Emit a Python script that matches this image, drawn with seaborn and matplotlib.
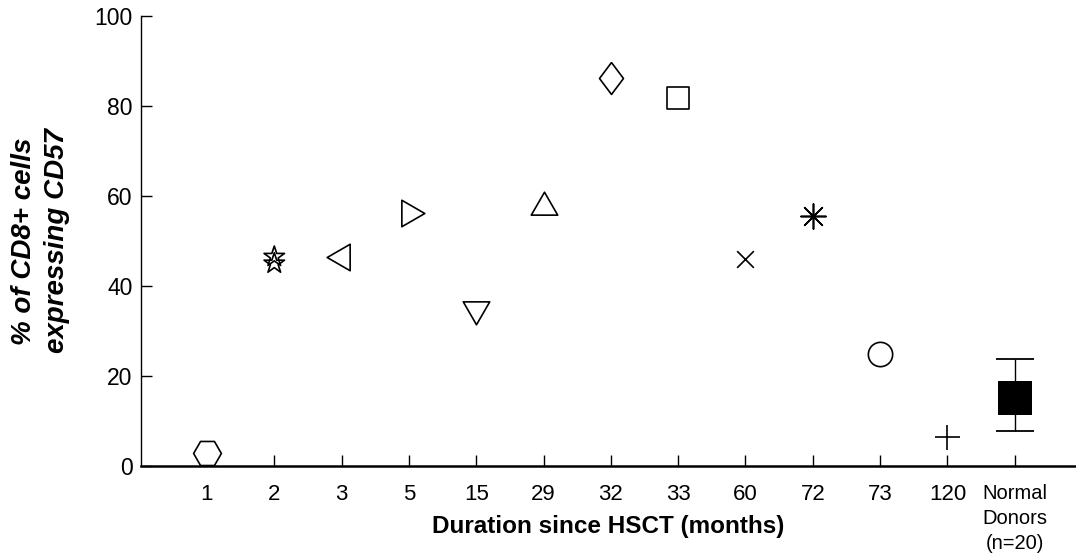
import numpy as np
import pandas as pd
import matplotlib
matplotlib.use("Agg")
import matplotlib.pyplot as plt
import seaborn as sns

# Category labels along the x axis (months since transplant, then the control group)
categories = ["1", "2", "3", "5", "15", "29", "32", "33", "60", "72", "73", "120",
              "Normal\nDonors\n(n=20)"]

# Individual patients: months since HSCT and % of CD8+ cells expressing CD57
patient_months = ["1", "2", "2", "3", "5", "15", "29", "32", "33", "60", "72", "73", "120"]
patient_cd57 = [3.0, 46.5, 45.0, 46.4, 56.2, 35.0, 57.5, 86.2, 81.8, 46.0, 55.6, 24.9, 6.4]

# Normal donors: mean with lower / upper range
donor_mean = 15.2
donor_low = 7.8
donor_high = 23.8

# Marker style per patient (drawing style only)
patient_markers = ["hexagon", "star", "star", "tri_left", "tri_right", "tri_down", "tri_up",
                   "diamond", "square", "cross", "asterisk", "circle", "plus"]

thin_diamond = [(0, 1), (0.75, 0), (0, -1), (-0.75, 0), (0, 1)]
MARKER_SPECS = {
    "hexagon":   dict(marker="H", size=20, face="white", line_art=False),
    "star":      dict(marker="*", size=15.5, face="none", line_art=False),
    "tri_left":  dict(marker=(3, 0, 90), size=22, face="white", line_art=False),
    "tri_right": dict(marker=(3, 0, 270), size=22, face="white", line_art=False),
    "tri_down":  dict(marker=(3, 0, 180), size=22, face="white", line_art=False),
    "tri_up":    dict(marker=(3, 0, 0), size=22, face="white", line_art=False),
    "diamond":   dict(marker=thin_diamond, size=23, face="white", line_art=False),
    "square":    dict(marker="s", size=16, face="white", line_art=False),
    "cross":     dict(marker="x", size=12, face="black", line_art=True),
    "asterisk":  dict(marker=(8, 2, 0), size=18, face="black", line_art=True),
    "circle":    dict(marker="o", size=17.5, face="white", line_art=False),
    "plus":      dict(marker="+", size=18, face="black", line_art=True),
}

sns.set_theme(style="white")
plt.rcParams["font.family"] = ["Liberation Sans", "DejaVu Sans"]
plt.rcParams.update({
    "text.color": "black",
    "axes.labelcolor": "black",
    "xtick.color": "black",
    "ytick.color": "black",
    "axes.edgecolor": "black",
})

fig = plt.figure(figsize=(10.76, 5.55), dpi=100)
ax = fig.add_axes([141 / 1076, 1 - 466 / 555, 935 / 1076, 450 / 555])

positions = [categories.index(m) for m in patient_months]
for pos, val, mk in zip(positions, patient_cd57, patient_markers):
    spec = MARKER_SPECS[mk]
    kws = dict(marker=spec["marker"], s=spec["size"] ** 2, linewidth=1.2,
               zorder=3, legend=False, ax=ax, clip_on=False)
    if spec["line_art"]:
        sns.scatterplot(x=[pos], y=[val], color="black", **kws)
    else:
        sns.scatterplot(x=[pos], y=[val], facecolor=spec["face"],
                        edgecolor="black", **kws)

# Normal donors: filled square with range whiskers
donor_pos = len(categories) - 1
ax.errorbar([donor_pos], [donor_mean],
            yerr=[[donor_mean - donor_low], [donor_high - donor_mean]],
            fmt="none", ecolor="black", elinewidth=1.0, capsize=13.5,
            capthick=1.3, zorder=2.8)
sns.scatterplot(x=[donor_pos], y=[donor_mean], marker="s", s=24.5 ** 2,
                color="black", edgecolor="black", linewidth=0, zorder=3,
                legend=False, ax=ax)

ax.set_xlim(-0.98, 12.91)
ax.set_ylim(0, 100)
ax.set_xticks(range(len(categories)))
ax.set_xticklabels(categories)
ax.set_yticks([0, 20, 40, 60, 80, 100])

ax.tick_params(axis="both", direction="in", length=8, width=1.0, colors="black",
               left=True, bottom=True, top=False, right=False)
ax.tick_params(axis="x", labelsize=16, pad=13)
ax.tick_params(axis="y", labelsize=16.5, pad=6)

last = ax.get_xticklabels()[-1]
last.set_fontsize(14.5)
last.set_linespacing(1.4)

sns.despine(ax=ax)
ax.spines["bottom"].set_linewidth(1.8)
ax.spines["left"].set_linewidth(1.0)
for side in ("bottom", "left"):
    ax.spines[side].set_color("black")
ax.grid(False)

ax.set_ylabel("% of CD8+ cells\nexpressing CD57", fontsize=20, fontweight="bold",
              fontstyle="italic", linespacing=1.35, va="center", color="black")
ax.yaxis.set_label_coords(-0.107, 0.5)
ax.set_xlabel("Duration since HSCT (months)", fontsize=17.5, fontweight="bold",
              va="top", color="black")
ax.xaxis.set_label_coords(0.5, -0.109)

fig.savefig("out.png", dpi=100, facecolor="white")
